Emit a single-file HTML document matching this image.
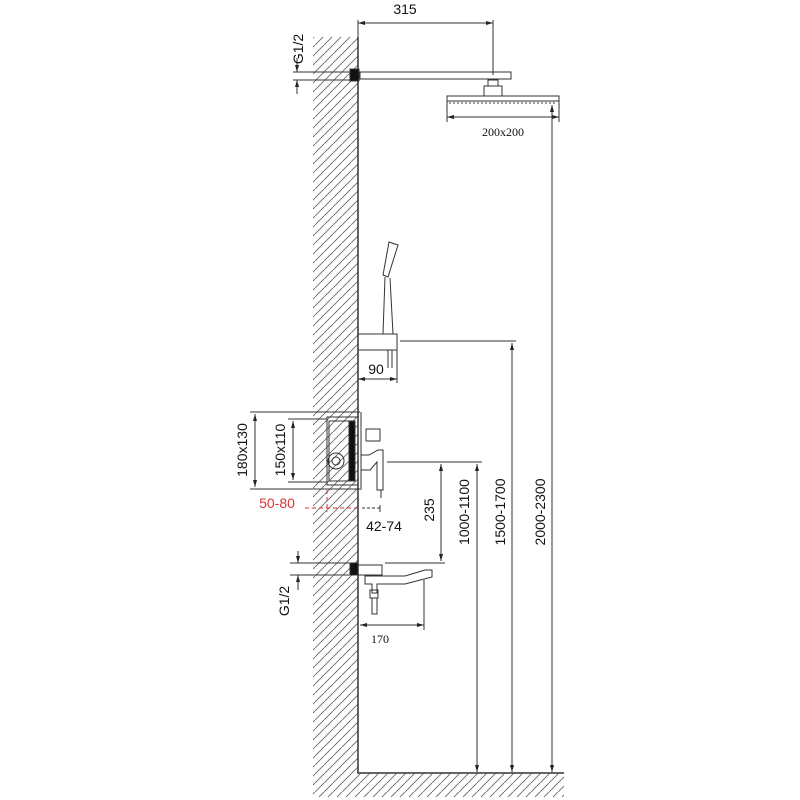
<!DOCTYPE html>
<html><head><style>body{margin:0;background:#fff}svg{display:block}</style></head><body>
<svg width="800" height="800" viewBox="0 0 800 800" xmlns="http://www.w3.org/2000/svg" font-family="Liberation Sans, sans-serif">
<defs>
<pattern id="h" width="9" height="9" patternUnits="userSpaceOnUse"><path d="M-2 11 L11 -2" stroke="#666" stroke-width="0.9"/></pattern>
<marker id="a" markerWidth="8" markerHeight="8" refX="7" refY="4" orient="auto-start-reverse" markerUnits="userSpaceOnUse"><path d="M0 2 L7 4 L0 6Z" fill="#222"/></marker>
</defs>
<rect x="313" y="37" width="45" height="760" fill="url(#h)"/>
<rect x="358" y="773" width="206" height="24" fill="url(#h)"/>
<path d="M358 37 V773 H564" fill="none" stroke="#333" stroke-width="1.5"/>
<g stroke="#333" stroke-width="1" fill="none">
<line x1="358" y1="20" x2="358" y2="37"/>
<line x1="358" y1="23" x2="493" y2="23" marker-start="url(#a)" marker-end="url(#a)"/>
<line x1="493" y1="20" x2="493" y2="75"/>
<rect x="360" y="72" width="151" height="7"/>
<rect x="350" y="69" width="9" height="12" fill="#111"/>
<rect x="488" y="80" width="10" height="6"/>
<rect x="484" y="86" width="18" height="10"/>
<rect x="447" y="96" width="112" height="5"/>
<line x1="449" y1="103" x2="557" y2="103" stroke-dasharray="2 2"/>
<line x1="447" y1="101" x2="447" y2="122"/><line x1="559" y1="101" x2="559" y2="122"/>
<line x1="447" y1="117" x2="559" y2="117" marker-start="url(#a)" marker-end="url(#a)"/>
<line x1="293" y1="72" x2="350" y2="72"/><line x1="293" y1="80" x2="350" y2="80"/>
<line x1="297" y1="58" x2="297" y2="72" marker-end="url(#a)"/><line x1="297" y1="94" x2="297" y2="80" marker-end="url(#a)"/>
<line x1="552" y1="105" x2="552" y2="772" marker-start="url(#a)" marker-end="url(#a)"/>
<line x1="400" y1="341" x2="516" y2="341"/>
<line x1="512" y1="343" x2="512" y2="772" marker-start="url(#a)" marker-end="url(#a)"/>
<line x1="390" y1="462" x2="482" y2="462"/>
<line x1="477" y1="464" x2="477" y2="772" marker-start="url(#a)" marker-end="url(#a)"/>
<line x1="441" y1="464" x2="441" y2="561" marker-start="url(#a)" marker-end="url(#a)"/>
<line x1="385" y1="563" x2="445" y2="563"/>
<path d="M389 242 L398 245 L388 277 L383 275 Z"/>
<path d="M385 277 L383 334 M390 278 L393 334"/>
<rect x="358" y="334" width="39" height="16"/>
<line x1="388" y1="350" x2="388" y2="368"/><line x1="392" y1="350" x2="392" y2="368"/>
<line x1="397" y1="350" x2="397" y2="383"/>
<line x1="358" y1="379" x2="397" y2="379" marker-start="url(#a)" marker-end="url(#a)"/>
<line x1="250" y1="412" x2="360" y2="412"/><line x1="250" y1="489" x2="360" y2="489"/>
<line x1="255" y1="414" x2="255" y2="487" marker-start="url(#a)" marker-end="url(#a)"/>
<line x1="288" y1="419" x2="327" y2="419"/><line x1="288" y1="482" x2="327" y2="482"/>
<line x1="293" y1="421" x2="293" y2="480" marker-start="url(#a)" marker-end="url(#a)"/>
<rect x="327" y="417" width="31" height="68"/>
<rect x="329" y="421" width="26" height="60"/>
<rect x="349" y="421" width="6" height="60" fill="#111"/>
<circle cx="336" cy="461" r="8"/><circle cx="336" cy="461" r="4"/>
<line x1="361" y1="412" x2="361" y2="490"/>
<rect x="366" y="429" width="14" height="12"/>
<path d="M361 455 H369 L378 450 H383 V490 H377 V462 L370 470 H361"/>
<line x1="381" y1="490" x2="381" y2="498"/>
<line x1="387" y1="462" x2="441" y2="462"/>
<g stroke="#d33" stroke-dasharray="4 3"><line x1="305" y1="508" x2="357" y2="508"/><line x1="327" y1="490" x2="327" y2="512"/></g>
<line x1="362" y1="508" x2="382" y2="508" stroke-dasharray="3 2"/>
<line x1="380" y1="505" x2="380" y2="512"/>
<rect x="350" y="563" width="8" height="12" fill="#111"/>
<path d="M358 565 H382 V575 H358"/>
<path d="M365 576 H405 L425 570 H432 V577 L405 584 H377 V593 H372 V584 H365 Z"/>
<rect x="370" y="590" width="8" height="8"/>
<rect x="372" y="598" width="5" height="16"/>
<line x1="290" y1="563" x2="350" y2="563"/><line x1="290" y1="575" x2="350" y2="575"/>
<line x1="298" y1="551" x2="298" y2="563" marker-end="url(#a)"/><line x1="298" y1="590" x2="298" y2="575" marker-end="url(#a)"/>
<line x1="424" y1="580" x2="424" y2="630"/>
<line x1="360" y1="625" x2="424" y2="625" marker-start="url(#a)" marker-end="url(#a)"/>
</g>
<g font-size="14" fill="#111">
<text x="405" y="14" text-anchor="middle">315</text>
<text x="503" y="136" font-family="Liberation Serif, serif" font-size="12" text-anchor="middle">200x200</text>
<text x="376" y="374" text-anchor="middle">90</text>
<text x="384" y="531" text-anchor="middle">42-74</text>
<text x="380" y="643" font-family="Liberation Serif, serif" font-size="12" text-anchor="middle">170</text>
<text x="277" y="508" fill="#d33" text-anchor="middle">50-80</text>
<text transform="translate(303,49) rotate(-90)" text-anchor="middle">G1/2</text>
<text transform="translate(289,601) rotate(-90)" text-anchor="middle">G1/2</text>
<text transform="translate(247,450) rotate(-90)" text-anchor="middle">180x130</text>
<text transform="translate(285,450) rotate(-90)" text-anchor="middle">150x110</text>
<text transform="translate(434,510) rotate(-90)" text-anchor="middle">235</text>
<text transform="translate(469,512) rotate(-90)" text-anchor="middle">1000-1100</text>
<text transform="translate(505,512) rotate(-90)" text-anchor="middle">1500-1700</text>
<text transform="translate(545,512) rotate(-90)" text-anchor="middle">2000-2300</text>
</g>
</svg>
</body></html>
